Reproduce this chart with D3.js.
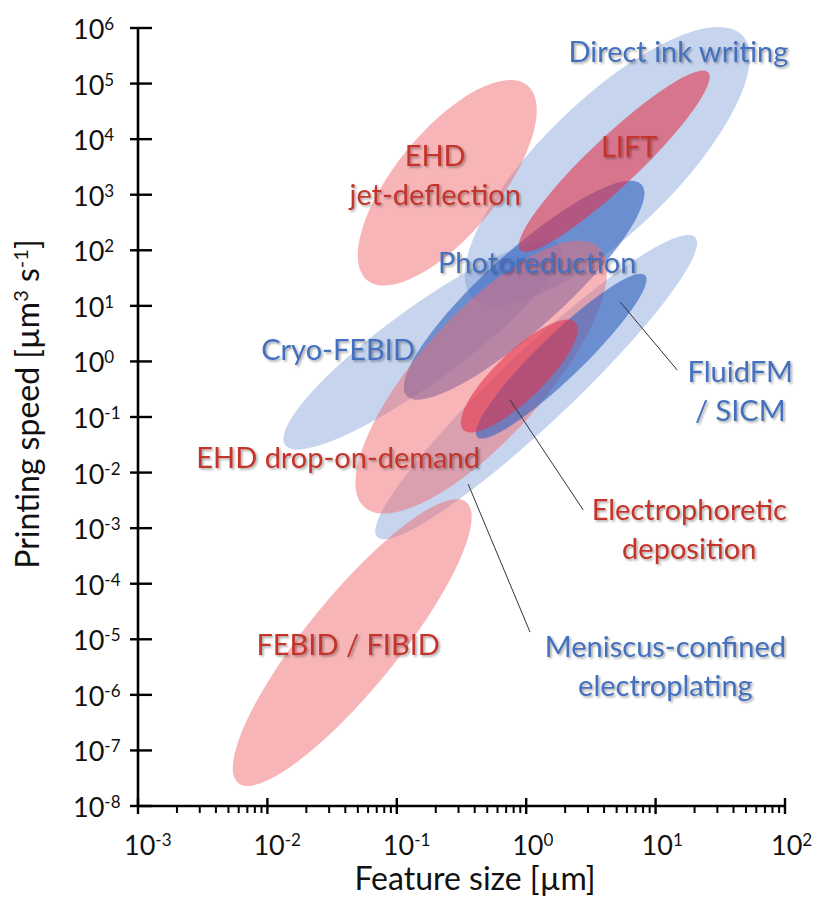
<!DOCTYPE html>
<html>
<head>
<meta charset="utf-8">
<script src="https://cdn.jsdelivr.net/npm/d3@7"></script>
<style>
  html, body { margin: 0; padding: 0; background: #fff; }
  svg { display: block; font-family: Lato, "Open Sans", sans-serif; }
</style>
</head>
<body>
<svg id="chart" width="815" height="904"></svg>
<script>
// Printing methods: each region is an ellipse whose long axis runs from
// (sizeLow, speedLow) to (sizeHigh, speedHigh); spread = half-width in decades.
const methods   = ["Direct ink writing", "EHD jet-deflection", "Cryo-FEBID",
                   "Meniscus-confined electroplating", "Photoreduction",
                   "EHD drop-on-demand", "FEBID / FIBID", "LIFT",
                   "FluidFM / SICM", "Electrophoretic deposition"];
const sizeLow   = [0.383, 0.059, 0.0137, 0.0706, 0.119, 0.0559, 0.00595, 0.899, 0.418, 0.326];
const speedLow  = [14.3, 29, 0.0313, 6.9e-4, 0.240, 2.39e-3, 2.6e-8, 100, 0.0436, 0.0591];
const sizeHigh  = [46.7, 1.02, 1.83, 20.2, 7.80, 3.61, 0.344, 25.5, 8.31, 2.39];
const speedHigh = [7.4e5, 9.3e4, 124, 172, 1525, 114, 2.95e-3, 1.6e5, 35.6, 5.09];
const spread    = [0.51, 0.40, 0.29, 0.28, 0.30, 0.48, 0.355, 0.19, 0.17, 0.185];
const family    = ["blue", "red", "blue", "blue", "blue", "red", "red", "red", "blue", "red"];
const core      = [false, false, false, false, true, false, false, true, true, true];

// Axis ticks (powers of ten)
const xExponents = [-3, -2, -1, 0, 1, 2];
const yExponents = [6, 5, 4, 3, 2, 1, 0, -1, -2, -3, -4, -5, -6, -7, -8];

// Region labels, anchored in data units (first line anchor)
const labelLines = [
  ["Direct ink writing"], ["EHD", "jet-deflection"], ["Cryo-FEBID"],
  ["Meniscus-confined", "electroplating"], ["Photoreduction"],
  ["EHD drop-on-demand"], ["FEBID / FIBID"], ["LIFT"],
  ["FluidFM", "/ SICM"], ["Electrophoretic", "deposition"]
];
const labelSize  = [15, 0.198, 0.0352, 11.9, 1.216, 0.0352, 0.0421, 6.25, 45.1, 18.2];
const labelSpeed = [2.42e5, 3260, 1.055, 4.8e-6, 38.7, 0.01205, 5.2e-6, 4720, 0.425, 1.4e-3];

// Leader lines from label to region
const leaderOf      = [8, 9, 3];
const leaderSize0   = [5.33, 0.752, 0.356];
const leaderSpeed0  = [11.7, 0.201, 6.2e-3];
const leaderSize1   = [14.7, 2.76, 1.07];
const leaderSpeed1  = [0.698, 2.12e-3, 1.35e-5];

const svg = d3.select("#chart");
const x = d3.scaleLog().domain([1e-3, 1e2]).range([138, 785]);
const y = d3.scaleLog().domain([1e-8, 1e6]).range([806, 28]);

const fill = {
  blue: { broad: "rgba(135,165,218,0.48)", core: "rgba(52,98,192,0.62)" },
  red:  { broad: "rgba(240,108,114,0.50)", core: "rgba(228,48,72,0.58)" }
};
const textColor = { blue: "#4470bd", red: "#c3352c" };

const defs = svg.append("defs");
const f = defs.append("filter").attr("id", "soft").attr("x", "-10%").attr("y", "-20%")
  .attr("width", "130%").attr("height", "150%");
f.append("feDropShadow").attr("dx", 1.6).attr("dy", 1.6).attr("stdDeviation", 1.1)
  .attr("flood-color", "#000").attr("flood-opacity", 0.35);

// Ellipses
const regions = methods.map((m, i) => {
  const x1 = x(sizeLow[i]), y1 = y(speedLow[i]);
  const x2 = x(sizeHigh[i]), y2 = y(speedHigh[i]);
  return {
    cx: (x1 + x2) / 2, cy: (y1 + y2) / 2,
    rx: Math.hypot(x2 - x1, y2 - y1) / 2,
    ry: x(Math.pow(10, spread[i])) - x(1),
    angle: Math.atan2(y2 - y1, x2 - x1) * 180 / Math.PI,
    color: fill[family[i]][core[i] ? "core" : "broad"]
  };
});

svg.append("g").selectAll("ellipse").data(regions).join("ellipse")
  .attr("cx", 0).attr("cy", 0)
  .attr("rx", d => d.rx).attr("ry", d => d.ry)
  .attr("transform", d => `translate(${d.cx},${d.cy}) rotate(${d.angle})`)
  .attr("fill", d => d.color);

// Leader lines
svg.append("g").selectAll("line").data(leaderOf).join("line")
  .attr("x1", (d, i) => x(leaderSize0[i])).attr("y1", (d, i) => y(leaderSpeed0[i]))
  .attr("x2", (d, i) => x(leaderSize1[i])).attr("y2", (d, i) => y(leaderSpeed1[i]))
  .attr("stroke", "#333").attr("stroke-width", 1);

// Labels
const lineGap = 39;
const lab = svg.append("g").attr("font-size", 29).attr("text-anchor", "middle")
  .attr("filter", "url(#soft)");
labelLines.forEach((lines, i) => {
  const t = lab.append("text")
    .attr("x", x(labelSize[i])).attr("y", y(labelSpeed[i]))
    .attr("fill", textColor[family[i]]);
  lines.forEach((s, k) => {
    t.append("tspan").attr("x", x(labelSize[i])).attr("dy", k === 0 ? 0 : lineGap).text(s);
  });
});

// Axes
const axis = svg.append("g").attr("stroke", "#000");
axis.append("line").attr("x1", x.range()[0]).attr("x2", x.range()[0])
  .attr("y1", y.range()[1] - 1).attr("y2", y.range()[0] + 1).attr("stroke-width", 2.6);
axis.append("line").attr("x1", x.range()[0] - 1).attr("x2", x.range()[1] + 1)
  .attr("y1", y.range()[0]).attr("y2", y.range()[0]).attr("stroke-width", 2.6);

const isMajor = v => Math.abs(Math.log10(v) - Math.round(Math.log10(v))) < 1e-9;
const yMinor = y.ticks().filter(v => !isMajor(v));
const xMinor = x.ticks().filter(v => !isMajor(v));

axis.append("g").selectAll("line").data(yMinor).join("line")
  .attr("x1", x.range()[0] - 6).attr("x2", x.range()[0] + 6)
  .attr("y1", d => y(d)).attr("y2", d => y(d)).attr("stroke-width", 2);
axis.append("g").selectAll("line").data(yExponents).join("line")
  .attr("x1", x.range()[0] - 8).attr("x2", x.range()[0] + 14)
  .attr("y1", d => y(Math.pow(10, d))).attr("y2", d => y(Math.pow(10, d))).attr("stroke-width", 2.4);
axis.append("g").selectAll("line").data(xMinor).join("line")
  .attr("y1", y.range()[0]).attr("y2", y.range()[0] + 7)
  .attr("x1", d => x(d)).attr("x2", d => x(d)).attr("stroke-width", 2);
axis.append("g").selectAll("line").data(xExponents).join("line")
  .attr("y1", y.range()[0] - 8).attr("y2", y.range()[0] + 8)
  .attr("x1", d => x(Math.pow(10, d))).attr("x2", d => x(Math.pow(10, d))).attr("stroke-width", 2.4);

// Tick labels: "10" with superscript exponent
const tickFont = 27, supFont = 17;
const yl = svg.append("g").attr("font-size", tickFont).attr("fill", "#111");
yExponents.forEach(e => {
  const t = yl.append("text").attr("x", 73).attr("y", y(Math.pow(10, e)) + 11);
  t.append("tspan").text("10");
  t.append("tspan").attr("font-size", supFont).attr("dy", -9).text(e < 0 ? "-" + (-e) : e);
});
const xl = svg.append("g").attr("font-size", tickFont).attr("fill", "#111");
xExponents.forEach(e => {
  const cx = x(Math.pow(10, e));
  const t = xl.append("text").attr("x", cx - 14).attr("y", 855);
  t.append("tspan").text("10");
  t.append("tspan").attr("font-size", supFont).attr("dy", -9).text(e < 0 ? "-" + (-e) : e);
});

// Axis titles
svg.append("text").attr("x", 475).attr("y", 890).attr("text-anchor", "middle")
  .attr("font-size", 32).attr("fill", "#111").text("Feature size [µm]");
const yt = svg.append("text").attr("transform", "translate(39,404) rotate(-90)")
  .attr("text-anchor", "middle").attr("font-size", 32).attr("fill", "#111");
yt.append("tspan").text("Printing speed [µm");
yt.append("tspan").attr("font-size", 20).attr("dy", -11).text("3");
yt.append("tspan").attr("dy", 11).text(" s");
yt.append("tspan").attr("font-size", 20).attr("dy", -11).text("-1");
yt.append("tspan").attr("dy", 11).text("]");
</script>
</body>
</html>
